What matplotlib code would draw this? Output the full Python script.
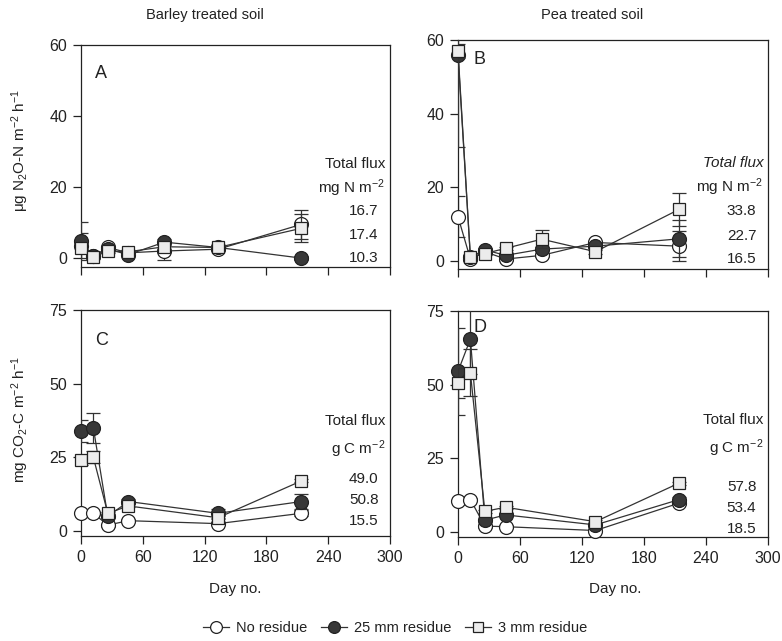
import matplotlib
matplotlib.use("Agg")
import matplotlib.pyplot as plt
import numpy as np

plt.rcParams['font.family'] = ['Liberation Sans', 'DejaVu Sans']
plt.rcParams['mathtext.fontset'] = 'custom'
plt.rcParams['mathtext.rm'] = 'Liberation Sans'
plt.rcParams['mathtext.it'] = 'Liberation Sans:italic'

# ---------------- data ----------------
series_labels = ["No residue", "25 mm residue", "3 mm residue"]

# Panel A: N2O, barley
days_A = [0, 12, 26, 46, 81, 133, 214]
A_none = [3.5, 0.5, 3.0, 1.5, 2.0, 2.5, 9.5]
A_r25 = [4.8, 0.5, 2.5, 1.0, 4.5, 3.0, 0.0]
A_r3 = [2.8, 0.3, 2.0, 1.8, 3.2, 3.0, 8.4]
A_none_err = [3.5, 0.5, 0.5, 0.5, 2.5, 0.5, 4.0]
A_r25_err = [5.4, 0.5, 0.5, 0.5, 0.8, 0.5, 0.5]
A_r3_err = [1.0, 0.5, 0.5, 0.5, 0.8, 0.5, 4.0]
A_totals = ["16.7", "17.4", "10.3"]

# Panel B: N2O, pea
days_B = [0, 12, 26, 46, 81, 133, 214]
B_none = [12.0, 0.5, 2.5, 0.5, 1.5, 5.0, 4.0]
B_r25 = [56.0, 1.0, 3.0, 1.5, 3.2, 4.0, 6.0]
B_r3 = [57.0, 1.0, 2.0, 3.4, 5.9, 2.5, 14.0]
B_none_err = [5.5, 0.5, 0.5, 0.5, 0.5, 0.5, 4.0]
B_r25_err = [25.0, 0.5, 0.5, 0.5, 0.5, 0.5, 5.0]
B_r3_err = [2.0, 0.5, 0.5, 0.5, 2.5, 0.5, 4.5]
B_totals = ["33.8", "22.7", "16.5"]

# Panel C: CO2, barley
days_C = [0, 12, 26, 46, 133, 214]
C_none = [6.0, 6.0, 2.0, 3.5, 2.5, 6.0]
C_r25 = [34.0, 35.0, 5.0, 10.0, 6.0, 10.0]
C_r3 = [24.0, 25.0, 6.0, 8.5, 4.5, 17.0]
C_none_err = [0.5, 0.5, 0.5, 0.5, 0.5, 1.0]
C_r25_err = [3.8, 5.0, 0.5, 1.0, 1.5, 2.5]
C_r3_err = [1.5, 2.0, 0.5, 0.5, 0.5, 0.5]
C_totals = ["49.0", "50.8", "15.5"]

# Panel D: CO2, pea
days_D = [0, 12, 26, 46, 133, 214]
D_none = [10.5, 11.0, 2.0, 1.8, 0.5, 9.8]
D_r25 = [54.5, 65.5, 4.0, 5.8, 2.4, 11.0]
D_r3 = [50.5, 54.0, 7.0, 8.4, 3.5, 16.6]
D_none_err = [0.5, 0.5, 0.5, 0.5, 0.5, 0.5]
D_r25_err = [14.7, 12.0, 0.5, 0.5, 0.5, 1.0]
D_r3_err = [5.0, 8.0, 0.5, 0.5, 0.5, 0.5]
D_totals = ["57.8", "53.4", "18.5"]

x_ticks = [0, 60, 120, 180, 240, 300]

# ---------------- figure ----------------
W, H = 782, 641
fig = plt.figure(figsize=(W / 100, H / 100), dpi=100)


def rect(l, r, t, b):
    return [l / W, 1 - b / H, (r - l) / W, (b - t) / H]


axA = fig.add_axes(rect(81, 390, 45, 267))
axB = fig.add_axes(rect(458, 768, 40, 269))
axC = fig.add_axes(rect(81, 390, 310, 536))
axD = fig.add_axes(rect(458, 768, 311, 537))

line_col = '#333333'
styles = [
    dict(marker='o', mfc='white', mec='#222222', ms=10, zorder=3),
    dict(marker='o', mfc='#383838', mec='#222222', ms=10, zorder=4),
    dict(marker='s', mfc='#ececec', mec='#222222', ms=9, zorder=5),
]


def draw(ax, days, vals, errs, ylim, yticks, letter, letter_xy, totals, unit_text,
         italic_total, text_ys, show_xlabels):
    handles = []
    for v, e, st in zip(vals, errs, styles):
        ax.errorbar(days, v, yerr=e, fmt='none', ecolor=line_col, elinewidth=0.9,
                    capsize=5, capthick=0.9, zorder=st['zorder'] - 0.5, clip_on=True)
        h, = ax.plot(days, v, color=line_col, lw=0.9, marker=st['marker'],
                     mfc=st['mfc'], mec=st['mec'], ms=st['ms'], mew=0.9,
                     zorder=st['zorder'], clip_on=False)
        handles.append(h)
    ax.set_xlim(0, 300)
    ax.set_ylim(*ylim)
    ax.set_xticks(x_ticks)
    ax.set_yticks(yticks)
    ax.tick_params(axis='both', direction='out', length=6, width=0.9,
                   labelsize=11.5, pad=4, colors='#222222')
    if not show_xlabels:
        ax.set_xticklabels([])
    for sp in ax.spines.values():
        sp.set_linewidth(0.9)
        sp.set_color('#222222')
    ax.text(letter_xy[0], letter_xy[1], letter, transform=ax.transAxes,
            fontsize=13, color='#222222', va='center', ha='left')
    tx = 0.985
    ax.text(tx, text_ys[0], "Total flux", transform=ax.transAxes, ha='right',
            va='center', fontsize=11, color='#222222',
            style='italic' if italic_total else 'normal')
    ax.text(tx, text_ys[1], unit_text, transform=ax.transAxes, ha='right',
            va='center', fontsize=11, color='#222222')
    for t, yy in zip(totals, text_ys[2:]):
        ax.text(0.915, yy, t, transform=ax.transAxes, ha='center', va='center',
                fontsize=11, color='#222222')
    return handles


def fy(ax_top, ax_bot, ypx):
    return (ax_bot - ypx) / (ax_bot - ax_top)


hA = draw(axA, days_A, [A_none, A_r25, A_r3], [A_none_err, A_r25_err, A_r3_err],
          (-2.5, 60), [0, 20, 40, 60], "A", (0.045, fy(45, 267, 74)), A_totals,
          r"mg N m$^{-2}$", False,
          [fy(45, 267, y) for y in (164, 188, 211, 235, 258)], False)
draw(axB, days_B, [B_none, B_r25, B_r3], [B_none_err, B_r25_err, B_r3_err],
     (-2.2, 60), [0, 20, 40, 60], "B", (0.05, fy(40, 269, 59)), B_totals,
     r"mg N m$^{-2}$", True,
     [fy(40, 269, y) for y in (163, 187, 211, 236, 259)], False)
draw(axC, days_C, [C_none, C_r25, C_r3], [C_none_err, C_r25_err, C_r3_err],
     (-1.7, 75), [0, 25, 50, 75], "C", (0.045, fy(310, 536, 341)), C_totals,
     r"g C m$^{-2}$", False,
     [fy(310, 536, y) for y in (421, 449, 479, 500, 521)], True)
draw(axD, days_D, [D_none, D_r25, D_r3], [D_none_err, D_r25_err, D_r3_err],
     (-1.7, 75), [0, 25, 50, 75], "D", (0.05, fy(311, 537, 327)), D_totals,
     r"g C m$^{-2}$", False,
     [fy(311, 537, y) for y in (420, 448, 487, 508, 529)], True)

# column titles
fig.text(205 / W, 1 - 15 / H, "Barley treated soil", ha='center', va='center',
         fontsize=10.5, color='#222222')
fig.text(592 / W, 1 - 15 / H, "Pea treated soil", ha='center', va='center',
         fontsize=10.5, color='#222222')

# y labels
fig.text(20 / W, 1 - 150 / H, r"$\mathrm{\mu}$g N$_2$O-N m$^{-2}$ h$^{-1}$",
         rotation=90, ha='center', va='center', fontsize=11, color='#222222')
fig.text(20 / W, 1 - 420 / H, r"mg CO$_2$-C m$^{-2}$ h$^{-1}$",
         rotation=90, ha='center', va='center', fontsize=11, color='#222222')

# x labels
fig.text(235 / W, 1 - 589 / H, "Day no.", ha='center', va='center',
         fontsize=11, color='#222222')
fig.text(615 / W, 1 - 589 / H, "Day no.", ha='center', va='center',
         fontsize=11, color='#222222')

leg = fig.legend(hA, series_labels, loc='center', bbox_to_anchor=(395 / W, 1 - 628 / H),
                 ncol=3, frameon=False, fontsize=10.5, handlelength=1.8,
                 columnspacing=0.9, handletextpad=0.5, markerscale=0.85)
for t in leg.get_texts():
    t.set_color('#222222')

fig.savefig("out.png", dpi=100)
